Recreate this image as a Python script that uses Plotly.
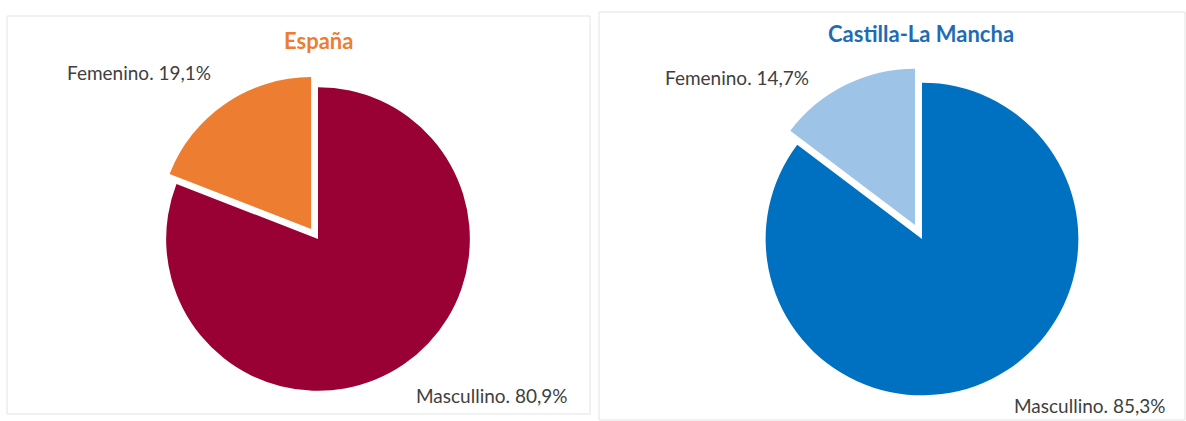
import plotly.graph_objects as go

# datos
categorias = ["Mascullino", "Femenino"]
espana = [80.9, 19.1]
clm = [85.3, 14.7]
titulos = ["España", "Castilla-La Mancha"]

W, H = 1186, 421


def px_x(x):
    return x / W


def px_y(y):
    return 1 - y / H


def etiqueta(cat, v):
    return f"{cat}. " + f"{v:.1f}".replace(".", ",") + "%"


fig = go.Figure()

# España
fig.add_trace(go.Pie(
    labels=categorias, values=espana, sort=False, direction="clockwise", rotation=0,
    pull=[0, 0.08], textinfo="none", hoverinfo="label+percent",
    marker=dict(colors=["#990033", "#ED7D31"], line=dict(width=0)),
    domain=dict(x=[px_x(154), px_x(482)], y=[px_y(403), px_y(75)]),
    showlegend=False,
))

# Castilla-La Mancha
fig.add_trace(go.Pie(
    labels=categorias, values=clm, sort=False, direction="clockwise", rotation=0,
    pull=[0, 0.1], textinfo="none", hoverinfo="label+percent",
    marker=dict(colors=["#0070C0", "#9DC3E6"], line=dict(width=0)),
    domain=dict(x=[px_x(750), px_x(1094)], y=[px_y(411), px_y(67)]),
    showlegend=False,
))

fuente = "Lato, 'Open Sans', sans-serif"
txt = dict(size=19, color="#404040", family=fuente)

annotations = [
    # titulos
    dict(text=f"<b>{titulos[0]}</b>", x=px_x(318), y=px_y(41), xanchor="center", yanchor="middle",
         font=dict(size=22, color="#ED7D31", family=fuente)),
    dict(text=f"<b>{titulos[1]}</b>", x=px_x(921), y=px_y(33), xanchor="center", yanchor="middle",
         font=dict(size=22, color="#1F6CB4", family=fuente)),
    # etiquetas España
    dict(text=etiqueta(categorias[1], espana[1]), x=px_x(65), y=px_y(72), xanchor="left", yanchor="middle", font=txt),
    dict(text=etiqueta(categorias[0], espana[0]), x=px_x(570), y=px_y(395), xanchor="right", yanchor="middle", font=txt),
    # etiquetas CLM
    dict(text=etiqueta(categorias[1], clm[1]), x=px_x(663), y=px_y(78), xanchor="left", yanchor="middle", font=txt),
    dict(text=etiqueta(categorias[0], clm[0]), x=px_x(1168), y=px_y(405), xanchor="right", yanchor="middle", font=txt),
]
for a in annotations:
    a.update(xref="paper", yref="paper", showarrow=False)

shapes = [
    dict(type="rect", xref="paper", yref="paper", x0=px_x(7), x1=px_x(590), y0=px_y(414), y1=px_y(16),
         line=dict(color="#E3E3E3", width=1), fillcolor="rgba(0,0,0,0)"),
    dict(type="rect", xref="paper", yref="paper", x0=px_x(599), x1=px_x(1185), y0=px_y(420), y1=px_y(12),
         line=dict(color="#E3E3E3", width=1), fillcolor="rgba(0,0,0,0)"),
]

fig.update_layout(
    width=W, height=H,
    margin=dict(l=0, r=0, t=0, b=0),
    paper_bgcolor="white", plot_bgcolor="white",
    annotations=annotations, shapes=shapes,
)

fig.write_html("out.html", config=dict(displayModeBar=False),
               post_script="document.body.style.margin='0';document.body.style.overflow='hidden';")
